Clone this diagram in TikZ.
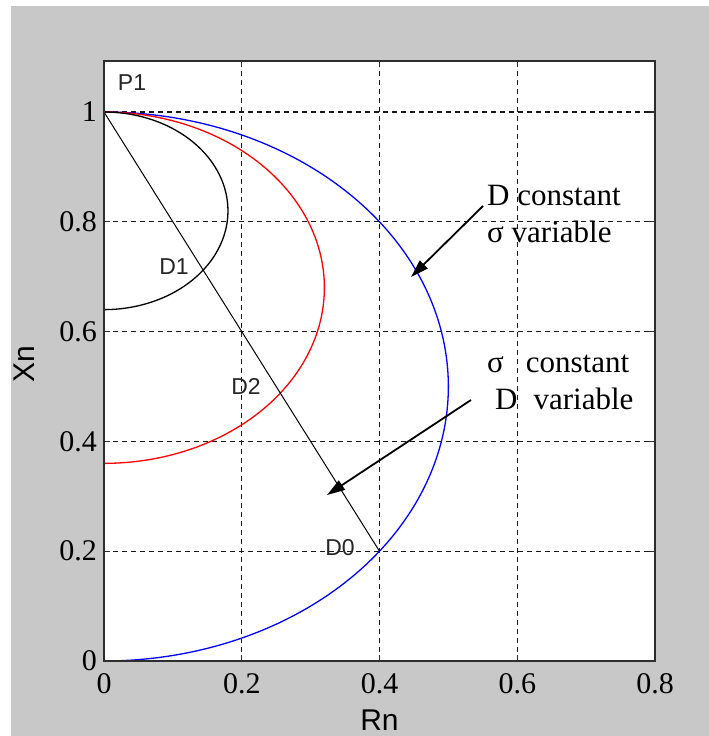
\documentclass[tikz,border=0pt]{standalone}
\usepackage{fontspec}
\setmainfont{Liberation Serif}
\newfontfamily\arialf{Liberation Sans}
\usetikzlibrary{arrows.meta}
\definecolor{figgray}{RGB}{200,200,200}
\definecolor{mblue}{RGB}{0,0,255}
\definecolor{mred}{RGB}{255,0,0}
\definecolor{boxgray}{RGB}{45,45,45}
\tikzset{
  gridl/.style={draw=black!90, line width=1.3pt, dash pattern=on 5pt off 4pt},
  tickl/.style={draw=boxgray, line width=1.2pt},
  boxl/.style={draw=boxgray, line width=2pt},
  curve/.style={line width=1.3pt},
  ptlab/.style={font=\arialf\fontsize{23}{23}\selectfont, text=black!85, inner sep=0pt},
  ticklab/.style={font=\fontsize{30}{30}\selectfont, inner sep=0pt},
  axlab/.style={font=\arialf\fontsize{30}{30}\selectfont, inner sep=0pt},
  annot/.style={font=\fontsize{31}{37}\selectfont, inner sep=0pt, anchor=base west},
  annarrow/.style={line width=1.8pt, -{Triangle[length=18pt,width=11pt]}}
}
\begin{document}
\begin{tikzpicture}[x=1pt,y=-1pt]
\useasboundingbox (0,0) rectangle (709,736);
\fill[figgray] (11,6) rectangle (709,736);
\fill[white] (104,61) rectangle (655,661);
\begin{scope}[shift={(104,661)}, x={(688.75pt,0pt)}, y={(0pt,549pt)}]
  % grid
  \foreach \r in {0.2,0.4,0.6} \draw[gridl] (\r,0) -- (\r,1.093);
  \foreach \v in {0.2,0.4,0.6,0.8,1.0} \draw[gridl] (0,\v) -- (0.8,\v);
  % ticks
  \foreach \r in {0.2,0.4,0.6} {
    \draw[tickl] (\r,0) -- ++(0pt,6pt);
    \draw[tickl] (\r,1.093) -- ++(0pt,-6pt);
  }
  \foreach \v in {0.2,0.4,0.6,0.8,1.0} {
    \draw[tickl] (0,\v) -- ++(6pt,0pt);
    \draw[tickl] (0.8,\v) -- ++(-6pt,0pt);
  }
  % curves
  \draw[curve, mblue] plot[domain=-90:90, samples=120, smooth] ({0.5*cos(\x)},{0.5+0.5*sin(\x)});
  \draw[curve, mred] plot[domain=-90:90, samples=100, smooth] ({0.32*cos(\x)},{0.68+0.32*sin(\x)});
  \draw[curve, black] plot[domain=-90:90, samples=80, smooth] ({0.18*cos(\x)},{0.82+0.18*sin(\x)});
  \coordinate (P1pt) at (0,1);
  \coordinate (D0pt) at (0.4,0.2);
  \draw[line width=1pt, black] (P1pt) -- (D0pt);
  % box
  \draw[boxl] (0,0) rectangle (0.8,1.093);
\end{scope}
% point labels
\node[ptlab] (p1) at (132,83) {P1};
\node[ptlab] (d1) at (174,267) {D1};
\node[ptlab] (d2) at (246,386) {D2};
\node[ptlab] (d0) at (340,548) {D0};
% tick labels
\foreach \v/\yy [count=\i] in {0/661,0.2/551.2,0.4/441.4,0.6/331.6,0.8/221.8,1/112}
  \node[ticklab, anchor=east] (yt\i) at (97,\yy) {\v};
\foreach \v/\xx [count=\i] in {0/104,0.2/241.75,0.4/379.5,0.6/517.25,0.8/655}
  \node[ticklab] (xt\i) at (\xx,684) {\v};
% axis labels
\node[axlab, rotate=90] (xn) at (24,364) {Xn};
\node[axlab] (rn) at (379.5,720) {Rn};
% annotations
\node[annot] (t1) at (487,205) {D constant};
\node[annot] (t2) at (487,242) {σ variable};
\node[annot] (t3) at (487,372) {σ\hspace{22pt}constant};
\node[annot] (t4) at (495,409) {D\hspace{16pt}variable};
\coordinate (a1s) at (483,206);
\coordinate (a1e) at (411,277);
\coordinate (a2s) at (471,400);
\coordinate (a2e) at (327,495);
\draw[annarrow] (a1s) -- (a1e);
\draw[annarrow] (a2s) -- (a2e);
\end{tikzpicture}
\end{document}
